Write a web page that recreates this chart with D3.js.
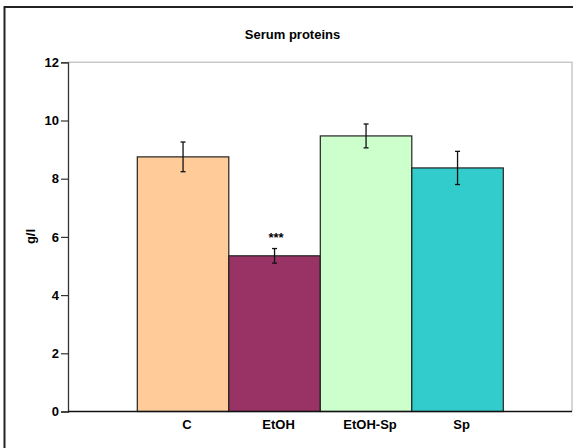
<!DOCTYPE html>
<html>
<head>
<meta charset="utf-8">
<script src="https://cdn.jsdelivr.net/npm/d3@7"></script>
<style>
  html, body { margin: 0; padding: 0; background: #fff; }
  svg { display: block; font-family: Arial, "Liberation Sans", sans-serif; }
</style>
</head>
<body>
<svg id="chart" width="573" height="448"></svg>
<script>
// Serum protein concentration per group (g/l), mean ± SEM
const groups = ["C", "EtOH", "EtOH-Sp", "Sp"];
const means = [8.75, 5.35, 9.47, 8.37];
const errors = [0.51, 0.25, 0.41, 0.57];
const colors = ["#FFCC99", "#993366", "#CCFFCC", "#33CCCC"];
const marks = ["", "***", "", ""];
const yTicks = [0, 2, 4, 6, 8, 10, 12];

const svg = d3.select("#chart");

// chart frame
svg.append("rect")
  .attr("x", 4.5).attr("y", 7)
  .attr("width", 620).attr("height", 520)
  .attr("fill", "#fff")
  .attr("stroke", "#222").attr("stroke-width", 2);

const plot = { left: 68, right: 572, top: 62.3, bottom: 411.5 };

const y = d3.scaleLinear().domain([0, 12]).range([plot.bottom, plot.top]);
const x = d3.scaleBand().domain(groups).range([137.3, 503.3]).padding(0);

// plot area outline (top & right)
svg.append("path")
  .attr("d", `M${plot.left},${plot.top}H${plot.right}V${plot.bottom}`)
  .attr("fill", "none").attr("stroke", "#c8c8c8").attr("stroke-width", 1.5);

// title
svg.append("text")
  .attr("x", 292.5).attr("y", 39)
  .attr("text-anchor", "middle")
  .attr("font-size", 13).attr("font-weight", "bold")
  .text("Serum proteins");

// bars
svg.append("g").selectAll("rect")
  .data(groups)
  .join("rect")
  .attr("x", d => x(d))
  .attr("y", (d, i) => y(means[i]))
  .attr("width", x.bandwidth())
  .attr("height", (d, i) => y(0) - y(means[i]))
  .attr("fill", (d, i) => colors[i])
  .attr("stroke", "#222").attr("stroke-width", 1.2);

// error bars
const eb = svg.append("g").attr("stroke", "#111").attr("stroke-width", 1.3);
groups.forEach((g, i) => {
  const cx = x(g) + x.bandwidth() / 2;
  const y1 = y(means[i] + errors[i]);
  const y2 = y(means[i] - errors[i]);
  eb.append("line").attr("x1", cx).attr("x2", cx).attr("y1", y1).attr("y2", y2);
  eb.append("line").attr("x1", cx - 2.5).attr("x2", cx + 2.5).attr("y1", y1).attr("y2", y1);
  eb.append("line").attr("x1", cx - 2.5).attr("x2", cx + 2.5).attr("y1", y2).attr("y2", y2);
});

// significance marks above error bars
svg.append("g").selectAll("text")
  .data(groups)
  .join("text")
  .attr("x", d => x(d) + x.bandwidth() / 2 + 1.5)
  .attr("y", (d, i) => y(means[i] + errors[i]) - 7)
  .attr("text-anchor", "middle")
  .attr("font-size", 13).attr("font-weight", "bold")
  .text((d, i) => marks[i]);

// y axis
const yAxis = svg.append("g")
  .attr("transform", `translate(${plot.left},0)`)
  .call(d3.axisLeft(y).tickValues(yTicks).tickSize(7).tickPadding(2).tickFormat(d3.format("d")));
yAxis.select(".domain").attr("stroke", "#333").attr("stroke-width", 1.3);
yAxis.selectAll(".tick line").attr("stroke", "#333").attr("stroke-width", 1.2);
yAxis.selectAll(".tick text")
  .attr("font-size", 13).attr("font-weight", "bold")
  .attr("font-family", "Arial, 'Liberation Sans', sans-serif")
  .attr("fill", "#000");

// x axis line
svg.append("line")
  .attr("x1", plot.left).attr("x2", plot.right)
  .attr("y1", plot.bottom).attr("y2", plot.bottom)
  .attr("stroke", "#111").attr("stroke-width", 1.5);

// category labels
svg.append("g").selectAll("text")
  .data(groups)
  .join("text")
  .attr("x", d => x(d) + x.bandwidth() / 2)
  .attr("dx", 4)
  .attr("y", 429)
  .attr("text-anchor", "middle")
  .attr("font-size", 13).attr("font-weight", "bold")
  .text(d => d);

// y axis title
svg.append("text")
  .attr("transform", "translate(35,236.5) rotate(-90)")
  .attr("text-anchor", "middle")
  .attr("font-size", 13).attr("font-weight", "bold")
  .text("g/l");
</script>
</body>
</html>
